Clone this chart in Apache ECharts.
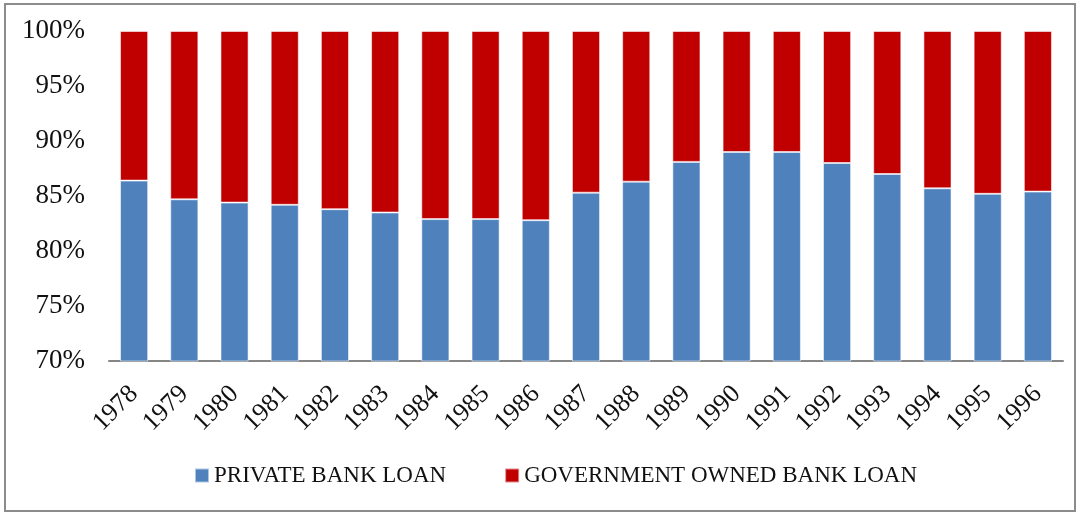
<!DOCTYPE html>
<html><head><meta charset="utf-8">
<script src="https://cdn.jsdelivr.net/npm/echarts@6/dist/echarts.min.js"></script>
<style>html,body{margin:0;padding:0;background:#fff}#c{width:1080px;height:514px}</style>
</head><body><div id="c"></div>
<script>
const years = ['1978','1979','1980','1981','1982','1983','1984','1985','1986','1987','1988','1989','1990','1991','1992','1993','1994','1995','1996'];
const privateLoan = [86.4,84.7,84.4,84.2,83.8,83.5,82.9,82.9,82.8,85.3,86.3,88.1,89.0,89.0,88.0,87.0,85.7,85.2,85.4];
const governmentLoan = [13.6,15.3,15.6,15.8,16.2,16.5,17.1,17.1,17.2,14.7,13.7,11.9,11.0,11.0,12.0,13.0,14.3,14.8,14.6];
const yTicks = {min:70, max:100, step:5};

const font = '"Liberation Serif", "DejaVu Serif", serif';
const chart = echarts.init(document.getElementById('c'));
chart.setOption({
  animation:false,
  textStyle:{fontFamily:font},
  graphic:[{type:'rect',shape:{x:5,y:4,width:1070,height:507},style:{fill:'none',stroke:'#8c8c8c',lineWidth:2},silent:true}],
  grid:{left:109,right:17,top:31,bottom:153},
  legend:{left:189,top:459,itemWidth:14,itemHeight:14,itemGap:58,icon:'rect',
    textStyle:{fontFamily:font,fontSize:23,color:'#111'},
    data:['PRIVATE BANK LOAN','GOVERNMENT OWNED BANK LOAN']},
  xAxis:{type:'category',data:years,
    axisLine:{lineStyle:{color:'#868686',width:2}},axisTick:{show:false},
    axisLabel:{rotate:45,fontSize:26,color:'#111',fontFamily:font,margin:29,interval:0,
      align:'right',verticalAlign:'middle'}},
  yAxis:{type:'value',min:yTicks.min,max:yTicks.max,interval:yTicks.step,
    axisLine:{show:false},axisTick:{show:false},splitLine:{show:false},
    axisLabel:{formatter:'{value}%',fontSize:27,color:'#111',fontFamily:font,margin:24}},
  series:[
    {name:'PRIVATE BANK LOAN',type:'bar',stack:'s',data:privateLoan,barWidth:'56%',
      itemStyle:{color:'#4F81BD',borderColor:'rgba(255,255,255,0.55)',borderWidth:1}},
    {name:'GOVERNMENT OWNED BANK LOAN',type:'bar',stack:'s',data:governmentLoan,barWidth:'56%',
      itemStyle:{color:'#C00000',borderColor:'rgba(255,255,255,0.55)',borderWidth:1}}
  ]
});
</script></body></html>
